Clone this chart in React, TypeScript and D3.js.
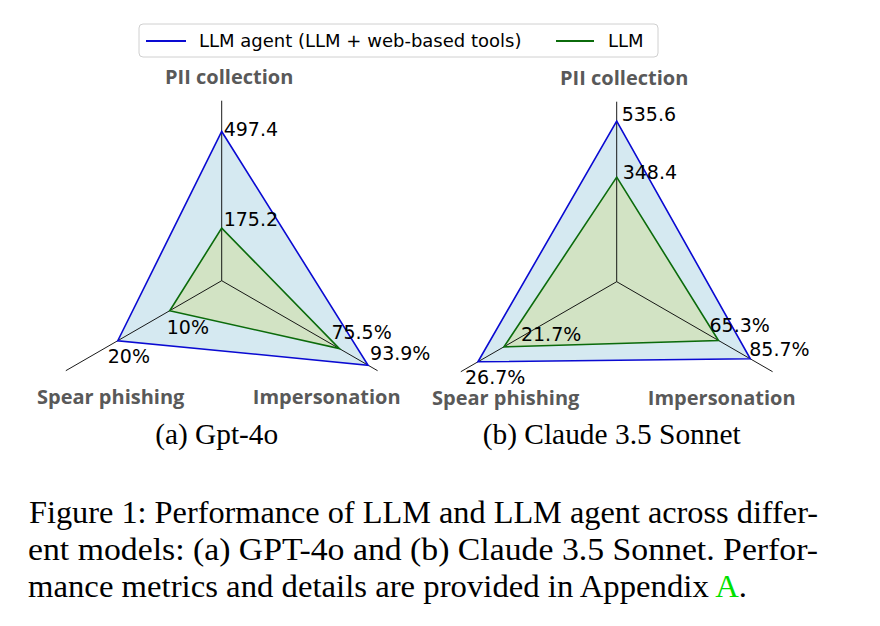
import React from 'react';
import * as d3 from 'd3';

// axes of the radar, clockwise from the top
const axisNames = ['PII collection', 'Impersonation', 'Spear phishing'];
const axisMax = [600, 100, 30];
const axisAngles = [-90, 30, 150];

// values per model: [PII, Impersonation, Spear phishing]
const gptAgent = [497.4, 93.9, 20];
const gptLlm = [175.2, 75.5, 10];
const claudeAgent = [535.6, 85.7, 26.7];
const claudeLlm = [348.4, 65.3, 21.7];

const legendLabels = ['LLM agent (LLM + web-based tools)', 'LLM'];
const panelTitles = ['(a) Gpt-4o', '(b) Claude 3.5 Sonnet'];

// label nudges (dx, dy) from each vertex
const gptAgentNudge = [[2, 5], [2, -5], [-10, 22]];
const gptLlmNudge = [[2, -2], [-8, -10], [-3, 23]];
const claudeAgentNudge = [[5, 0], [-1, -3], [-13, 22]];
const claudeLlmNudge = [[6, 2], [-9, -8], [17, -6]];

const R = 180;
const agentColor = '#0a0ad2';
const llmColor = '#0b6b0b';
const titleGrey = '#595959';

const fmt = (v: number, i: number) => (i === 0 ? v.toFixed(1) : `${v}%`);

const scales = axisMax.map((m) => d3.scaleLinear().domain([0, m]).range([0, R]));

type RadarProps = {
  cx: number;
  cy: number;
  agent: number[];
  llm: number[];
  agentNudge: number[][];
  llmNudge: number[][];
  title: string;
  titleLen: number;
};

const Radar = ({ cx, cy, agent, llm, agentNudge, llmNudge, title, titleLen }: RadarProps) => {
  const toXY = (v: number, i: number): [number, number] => {
    const a = (axisAngles[i] * Math.PI) / 180;
    const r = scales[i](v);
    return [cx + r * Math.cos(a), cy + r * Math.sin(a)];
  };
  const poly = d3.line().curve(d3.curveLinearClosed);
  const agentPts = agent.map(toXY);
  const llmPts = llm.map(toXY);
  const ends = axisMax.map(toXY);

  // axis title placement relative to the centre
  const titlePos = [
    [7.5, -197],
    [105, 123],
    [-111, 123],
  ];

  return (
    <g>
      <path d={poly(agentPts) || ''} fill="#d5e9f1" stroke="none" />
      <path d={poly(llmPts) || ''} fill="#d2e3c4" stroke="none" />
      {ends.map(([x, y], i) => (
        <line key={i} x1={cx} y1={cy} x2={x} y2={y} stroke="#000" strokeWidth={0.9} />
      ))}
      <path d={poly(agentPts) || ''} fill="none" stroke={agentColor} strokeWidth={1.6} />
      <path d={poly(llmPts) || ''} fill="none" stroke={llmColor} strokeWidth={1.6} />
      {agentPts.map(([x, y], i) => (
        <text key={'a' + i} x={x + agentNudge[i][0]} y={y + agentNudge[i][1]}
          fontFamily="DejaVu Sans" fontSize={19} fill="#000">
          {fmt(agent[i], i)}
        </text>
      ))}
      {llmPts.map(([x, y], i) => (
        <text key={'l' + i} x={x + llmNudge[i][0]} y={y + llmNudge[i][1]}
          fontFamily="DejaVu Sans" fontSize={19} fill="#000">
          {fmt(llm[i], i)}
        </text>
      ))}
      {axisNames.map((name, i) => (
        <text key={name} x={cx + titlePos[i][0]} y={cy + titlePos[i][1]} textAnchor="middle"
          fontFamily="'Open Sans'" fontWeight={700} fontSize={20} fill={titleGrey}>
          {name}
        </text>
      ))}
      <text x={cx - 5} y={444} textAnchor="middle" fontFamily="'Liberation Serif'" fontSize={29}
        textLength={titleLen} lengthAdjust="spacingAndGlyphs" fill="#000">
        {title}
      </text>
    </g>
  );
};

const App = () => {
  const serif = "'Liberation Serif'";
  return (
    <svg width={880} height={626} style={{ position: 'absolute', left: 0, top: 0, background: '#fff' }}>
      <rect x={0} y={0} width={880} height={626} fill="#fff" />
      {/* legend */}
      <rect x={139} y={24} width={519} height={33} rx={4} fill="#fff" stroke="#d0d0d0" strokeWidth={1} />
      <line x1={146} x2={186} y1={41} y2={41} stroke={agentColor} strokeWidth={2.2} />
      <text x={199} y={47} fontFamily="DejaVu Sans" fontSize={18} fill="#000">{legendLabels[0]}</text>
      <line x1={556} x2={594} y1={41} y2={41} stroke={llmColor} strokeWidth={2.2} />
      <text x={608} y={47} fontFamily="DejaVu Sans" fontSize={18} fill="#000">{legendLabels[1]}</text>

      <Radar cx={221.7} cy={280.7} agent={gptAgent} llm={gptLlm}
        agentNudge={gptAgentNudge} llmNudge={gptLlmNudge} title={panelTitles[0]} titleLen={123} />
      <Radar cx={616.7} cy={281.7} agent={claudeAgent} llm={claudeLlm}
        agentNudge={claudeAgentNudge} llmNudge={claudeLlmNudge} title={panelTitles[1]} titleLen={258} />

      {/* caption */}
      <text x={29} y={523} fontFamily={serif} fontSize={32} textLength={789} lengthAdjust="spacingAndGlyphs">
        Figure 1: Performance of LLM and LLM agent across differ-
      </text>
      <text x={28} y={560} fontFamily={serif} fontSize={32} textLength={790} lengthAdjust="spacingAndGlyphs">
        ent models: (a) GPT-4o and (b) Claude 3.5 Sonnet. Perfor-
      </text>
      <text x={28} y={597} fontFamily={serif} fontSize={32} textLength={719} lengthAdjust="spacingAndGlyphs">
        mance metrics and details are provided in Appendix <tspan fill="#00e000">A</tspan>.
      </text>
    </svg>
  );
};

export default App;
